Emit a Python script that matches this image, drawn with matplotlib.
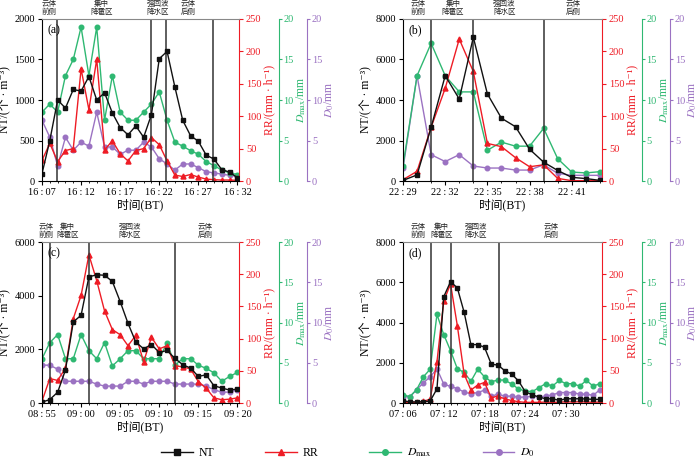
import matplotlib
matplotlib.use('Agg')
import matplotlib.pyplot as plt
import matplotlib.transforms as mtrans
from matplotlib.lines import Line2D
from matplotlib.ticker import MultipleLocator, FixedLocator

plt.rcParams['font.family'] = ['Liberation Serif', 'Noto Sans CJK SC', 'DejaVu Serif']
plt.rcParams['mathtext.fontset'] = 'stix'
plt.rcParams['axes.unicode_minus'] = False

# ---------------- data ----------------
times_a = ["16:%02d" % m for m in range(7, 33)]
ticks_a = ["16:07", "16:12", "16:17", "16:22", "16:27", "16:32"]
nt_a = [90, 500, 1000, 900, 1130, 1110, 1290, 1000, 1090, 840, 660, 570, 680, 540, 820,
        1510, 1600, 1160, 750, 560, 490, 320, 270, 140, 110, 40]
rr_a = [32, 58, 30, 47, 50, 173, 110, 188, 48, 62, 42, 31, 47, 50, 67, 56, 31, 9, 7, 10,
        6, 3, 2, 1.5, 1.5, 1]
dmax_a = [8.5, 9.5, 8.5, 13, 15, 19, 13, 19, 7.5, 13, 8.5, 7.5, 7.5, 8.5, 9.5, 11, 7.5,
          4.8, 4.3, 3.75, 3.3, 2.4, 1.9, 1.35, 1.0, 0.8]
d0_a = [7.5, 5.4, 1.85, 5.4, 3.8, 4.8, 4.3, 8.5, 4.2, 4.2, 3.3, 3.8, 3.8, 4.8, 4.2, 2.75,
        2.1, 1.35, 2.1, 2.1, 1.65, 1.15, 1.0, 0.85, 0.7, 0.6]
bounds_a = [1.95, 13.92, 15.9, 21.83]
zones_a = [0.9, 7.6, 14.85, 18.65]

times_b = ["22:%02d" % m for m in range(29, 44)]
ticks_b = ["22:29", "22:32", "22:35", "22:38", "22:41"]
nt_b = [30, 300, 2650, 5200, 4050, 7100, 4300, 3100, 2680, 1570, 930, 520, 180, 120, 30]
rr_b = [2, 15, 83, 143, 219, 169, 58, 53, 36, 22, 25, 4, 0.5, 0.5, 0.5]
dmax_b = [1.9, 13, 17, 13, 11, 11, 3.8, 4.8, 4.3, 4.3, 6.5, 2.75, 1.1, 1.0, 1.15]
d0_b = [1.55, 13, 3.25, 2.4, 3.25, 1.85, 1.6, 1.6, 1.35, 1.35, 2.0, 0.95, 0.7, 0.7, 0.7]
bounds_b = [2, 5, 10]
zones_b = [1.06, 3.55, 7.2, 12.1]

times_c = ["08:%02d" % m for m in range(55, 60)] + ["09:%02d" % m for m in range(0, 21)]
ticks_c = ["08:55", "09:00", "09:05", "09:10", "09:15", "09:20"]
nt_c = [30, 130, 400, 1230, 3020, 3270, 4700, 4780, 4760, 4530, 3780, 2970, 2270, 2020,
        2180, 1880, 1960, 1660, 1430, 1300, 990, 1050, 640, 560, 480, 520]
rr_c = [3, 38, 35, 54, 131, 167, 230, 190, 143, 114, 106, 89, 105, 64, 102, 84, 89, 58,
        56, 53, 33, 23, 8, 5, 6, 8]
dmax_c = [5.5, 7.5, 8.5, 5.5, 5.5, 8.5, 6.5, 5.5, 7.5, 4.6, 5.5, 6.5, 6.5, 5.5, 5.5, 5.5,
          7.5, 4.7, 5.5, 5.5, 4.7, 4.3, 3.75, 2.7, 3.3, 3.8]
d0_c = [4.7, 4.7, 4.2, 2.7, 2.7, 2.7, 2.7, 2.35, 2.1, 2.1, 2.1, 2.7, 2.7, 2.35, 2.7, 2.7,
        2.7, 2.35, 2.35, 2.35, 2.35, 2.1, 1.65, 1.35, 1.35, 1.65]
bounds_c = [1, 6, 17]
zones_c = [0.5, 3.3, 11.2, 20.9]

times_d = ["07:%02d" % m for m in range(6, 36)]
ticks_d = ["07:06", "07:12", "07:18", "07:24", "07:30"]
nt_d = [110, 60, 50, 60, 100, 700, 5280, 6030, 5720, 4510, 2900, 2900, 2770, 1930, 1880,
        1600, 1435, 1100, 560, 410, 300, 210, 210, 130, 210, 210, 210, 200, 180, 180]
rr_d = [1, 1, 1, 2.5, 6, 64, 158, 185, 120, 45, 20, 28, 32, 8, 11, 6, 4, 2, 1, 1, 1, 1.5,
        1, 1, 2, 1.5, 2, 1.5, 1, 1.5]
dmax_d = [1.0, 0.8, 1.65, 3.25, 4.2, 11, 8.5, 6.5, 4.25, 3.8, 2.7, 4.2, 3.25, 2.65, 2.85,
          2.85, 2.35, 1.75, 1.5, 1.4, 1.9, 2.4, 2.1, 2.8, 2.4, 2.4, 2.1, 2.8, 2.1, 2.4]
d0_d = [0.8, 0.75, 1.65, 2.5, 3.25, 4.25, 2.35, 2.05, 1.8, 1.35, 1.15, 1.3, 1.6, 0.85, 1.1,
        0.85, 0.85, 0.7, 0.75, 0.85, 0.75, 0.85, 1.0, 1.3, 1.3, 1.3, 1.1, 1.1, 0.95, 1.65]
bounds_d = [4.05, 7.05, 14.1]
zones_d = [2.2, 5.7, 10.7, 21.8]

zone_names = ["云体\n前侧", "集中\n降雹区", "强回波\n降水区", "云体\n后侧"]

# ---------------- style ----------------
BLACK = '#111111'
RED = '#ee1c25'
GREEN = '#2fb872'
PURPLE = '#9b72c2'
TICK_FS = 7.5
LAB_FS = 8.5

W, H = 700, 461
fig = plt.figure(figsize=(W / 100, H / 100), dpi=100)


def box(l, t, r, b):
    return [l / W, 1 - b / H, (r - l) / W, (b - t) / H]


def panel(rect, letter, times, ticks, nt, rr, dmax, d0, nt_max, nt_step, bounds, zones, xr):
    ax = fig.add_axes(rect)
    ax2 = ax.twinx()
    ax3 = ax.twinx()
    ax4 = ax.twinx()
    ax3.spines['right'].set_position(('outward', 28.5))
    ax4.spines['right'].set_position(('outward', 49))
    for a, z in ((ax, 4), (ax2, 3), (ax3, 2), (ax4, 1)):
        a.set_zorder(z)
        a.patch.set_visible(False)
    for a in (ax2, ax3, ax4):
        for s in ('left', 'top', 'bottom'):
            a.spines[s].set_visible(False)
    ax.spines['right'].set_visible(False)
    ax.spines['top'].set_color('#888888')

    x = list(range(len(times)))
    ms = 3.3
    ax.plot(x, nt, '-s', color=BLACK, lw=1.0, ms=ms)
    ax2.plot(x, rr, '-^', color=RED, lw=1.0, ms=ms + 0.3)
    ax3.plot(x, dmax, '-o', color=GREEN, lw=1.0, ms=ms)
    ax4.plot(x, d0, '-o', color=PURPLE, lw=1.0, ms=ms)

    ax.set_xlim(0, xr)
    ax.set_ylim(0, nt_max)
    ax.yaxis.set_major_locator(MultipleLocator(nt_step))
    ax2.set_ylim(0, 250)
    ax2.yaxis.set_major_locator(MultipleLocator(50))
    for a in (ax3, ax4):
        a.set_ylim(0, 20)
        a.yaxis.set_major_locator(MultipleLocator(5))

    pos = [times.index(t) for t in ticks]
    ax.xaxis.set_major_locator(FixedLocator(pos))
    ax.set_xticklabels([t.replace(':', '\u2009:\u2009') for t in ticks])
    ax.xaxis.set_minor_locator(MultipleLocator(1))
    ax.tick_params(axis='x', which='major', length=3, width=0.8, labelsize=TICK_FS, pad=2)
    ax.tick_params(axis='x', which='minor', length=1.5, width=0.6)
    ax.tick_params(axis='y', length=3, width=0.8, labelsize=TICK_FS, pad=2)
    ax2.tick_params(axis='y', colors=RED, length=3, width=0.8, labelsize=TICK_FS, pad=2)
    ax3.tick_params(axis='y', colors=GREEN, length=2.5, width=0.8, labelsize=TICK_FS, pad=1)
    ax4.tick_params(axis='y', colors=PURPLE, length=2.5, width=0.8, labelsize=TICK_FS, pad=1)
    ax2.spines['right'].set_color(RED)
    ax3.spines['right'].set_color(GREEN)
    ax4.spines['right'].set_color(PURPLE)

    ax.set_ylabel('NT/(个 · m⁻³)', fontsize=LAB_FS, labelpad=2)
    ax2.set_ylabel('RR/(mm · h⁻¹)', fontsize=LAB_FS, color=RED, labelpad=1)
    ax3.set_ylabel(r'$D_{\rm max}$/mm', fontsize=LAB_FS, color=GREEN, labelpad=0.3)
    ax4.set_ylabel(r'$D_0$/mm', fontsize=LAB_FS, color=PURPLE, labelpad=0.3)
    ax.set_xlabel('时间(BT)', fontsize=LAB_FS, labelpad=1)

    for b in bounds:
        ax.axvline(b, color='#333333', lw=1.1, zorder=0)

    tr = mtrans.blended_transform_factory(ax.transData, ax.transAxes)
    for zx, name in zip(zones, zone_names):
        ax.text(zx, 1.02, name, transform=tr, ha='center', va='bottom',
                fontsize=5.4, linespacing=1.0, color='#222222',
                family=['Noto Sans CJK SC'])
    ax.text(0.03, 0.97, letter, transform=ax.transAxes, ha='left', va='top',
            fontsize=8.5)
    return ax


panel(box(42, 19, 239, 181), '(a)', times_a, ticks_a, nt_a, rr_a, dmax_a, d0_a,
      2000, 500, bounds_a, zones_a, 25.2)
panel(box(403, 19, 602, 181), '(b)', times_b, ticks_b, nt_b, rr_b, dmax_b, d0_b,
      8000, 2000, bounds_b, zones_b, 14.15)
panel(box(42, 242, 239, 403), '(c)', times_c, ticks_c, nt_c, rr_c, dmax_c, d0_c,
      6000, 2000, bounds_c, zones_c, 25.2)
panel(box(403, 242, 602, 403), '(d)', times_d, ticks_d, nt_d, rr_d, dmax_d, d0_d,
      8000, 2000, bounds_d, zones_d, 29.3)

handles = [
    Line2D([], [], color=BLACK, marker='s', lw=1.0, ms=4),
    Line2D([], [], color=RED, marker='^', lw=1.0, ms=4.5),
    Line2D([], [], color=GREEN, marker='o', lw=1.0, ms=4),
    Line2D([], [], color=PURPLE, marker='o', lw=1.0, ms=4),
]
labels = ['NT', 'RR', r'$D_{\rm max}$', r'$D_0$']
fig.legend(handles, labels, loc='center', bbox_to_anchor=(348 / W, 1 - 453 / H),
           ncol=4, frameon=False, fontsize=8.5, handlelength=2.7, handletextpad=0.5,
           columnspacing=4.3)

fig.savefig('out.png', dpi=100)
